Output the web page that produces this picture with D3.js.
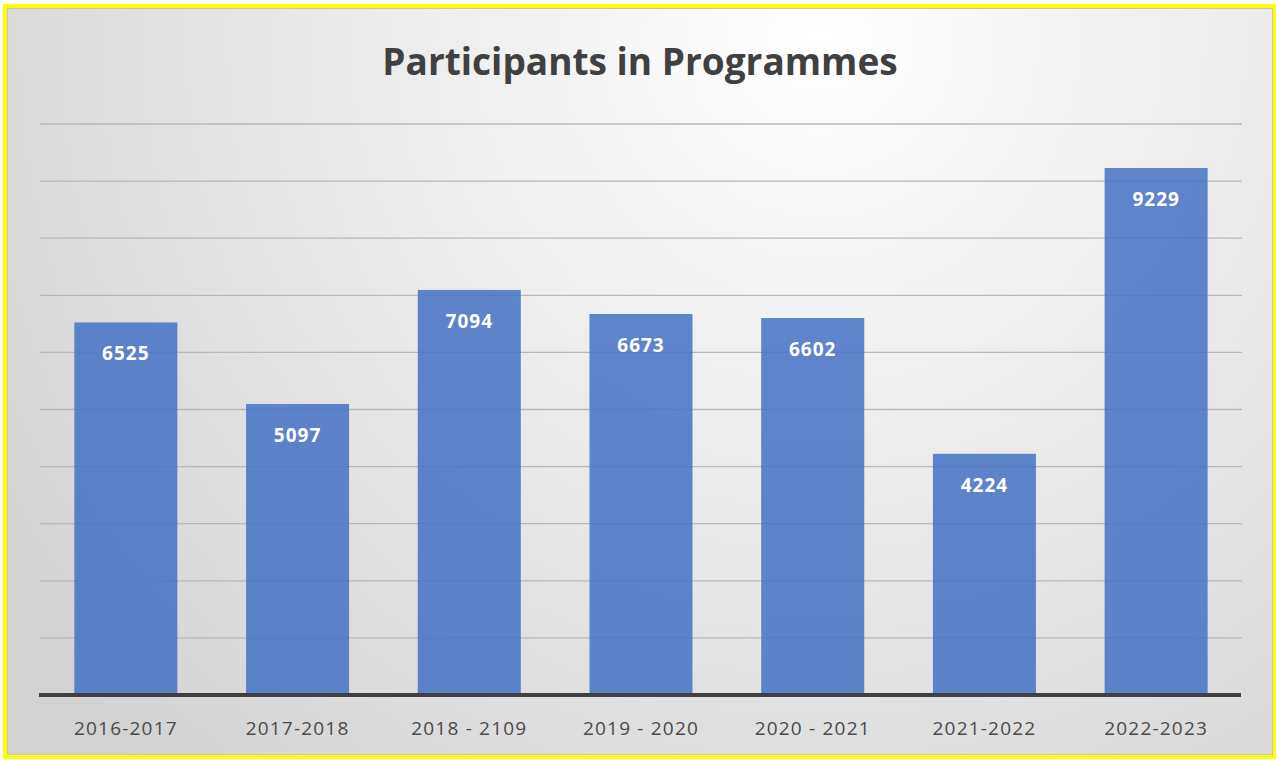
<!DOCTYPE html>
<html>
<head>
<meta charset="utf-8">
<script src="https://cdn.jsdelivr.net/npm/d3@7"></script>
<style>
  body { margin: 0; background: #fff; }
  svg { display: block; }
</style>
</head>
<body>
<svg id="chart" width="1276" height="760"></svg>
<script>
const seasons = ["2016-2017", "2017-2018", "2018 - 2109", "2019 - 2020", "2020 - 2021", "2021-2022", "2022-2023"];
const participants = [6525, 5097, 7094, 6673, 6602, 4224, 9229];
const yTicks = [0, 1000, 2000, 3000, 4000, 5000, 6000, 7000, 8000, 9000, 10000];

var svg = d3.select("#chart"),
    width = 1276,
    height = 760;

// background gradient, light at top, grey towards the bottom corners
var defs = svg.append("defs");
var grad = defs.append("radialGradient")
    .attr("id", "bg")
    .attr("gradientUnits", "userSpaceOnUse")
    .attr("cx", 820).attr("cy", 40).attr("r", 1000);
grad.append("stop").attr("offset", "0%").attr("stop-color", "#ffffff");
grad.append("stop").attr("offset", "100%").attr("stop-color", "#d2d2d2");

svg.append("rect")
    .attr("x", 7).attr("y", 8)
    .attr("width", 1266).attr("height", 747)
    .attr("fill", "url(#bg)")
    .attr("stroke", "#c4c4c4")
    .attr("stroke-width", 2);

svg.append("rect")
    .attr("x", 5).attr("y", 6)
    .attr("width", 1270).attr("height", 751)
    .attr("fill", "none")
    .attr("stroke", "#ffff00")
    .attr("stroke-width", 4);

var x = d3.scaleBand()
    .domain(seasons)
    .range([40, 1242])
    .paddingInner(0.4)
    .paddingOuter(0.2);

var y = d3.scaleLinear()
    .domain([0, 10000])
    .range([695, 124]);

// gridlines
svg.append("g")
    .selectAll("line")
    .data(yTicks.slice(1))
    .enter().append("line")
    .attr("x1", 40).attr("x2", 1242)
    .attr("y1", function (d) { return y(d); })
    .attr("y2", function (d) { return y(d); })
    .attr("stroke", "#b8b8b8")
    .attr("stroke-width", 1.3);

// bars
svg.append("g")
    .selectAll("rect")
    .data(participants)
    .enter().append("rect")
    .attr("x", function (d, i) { return x(seasons[i]); })
    .attr("y", function (d) { return y(d); })
    .attr("width", x.bandwidth())
    .attr("height", function (d) { return y(0) - y(d); })
    .attr("fill", "#4472c4")
    .attr("fill-opacity", 0.85);

// value labels
svg.append("g")
    .selectAll("text")
    .data(participants)
    .enter().append("text")
    .attr("x", function (d, i) { return x(seasons[i]) + x.bandwidth() / 2; })
    .attr("y", function (d) { return y(d) + 38; })
    .attr("text-anchor", "middle")
    .attr("fill", "#ffffff")
    .style("font-family", "'Open Sans', sans-serif")
    .style("font-weight", "bold")
    .style("font-size", "19px")
    .style("letter-spacing", "1px")
    .text(function (d) { return d; });

// x axis baseline
svg.append("line")
    .attr("x1", 39).attr("x2", 1241)
    .attr("y1", y(0)).attr("y2", y(0))
    .attr("stroke", "#404040")
    .attr("stroke-width", 4);

var xAxis = svg.append("g")
    .attr("transform", "translate(0," + y(0) + ")")
    .call(d3.axisBottom(x).tickSize(0).tickPadding(0));
xAxis.select(".domain").remove();
xAxis.selectAll("text")
    .attr("y", 40)
    .attr("dy", null)
    .attr("fill", "#4a4a4a")
    .style("font-family", "'Open Sans', sans-serif")
    .style("font-size", "19px")
    .style("letter-spacing", "1.2px");

// title
svg.append("text")
    .attr("x", 640)
    .attr("y", 75)
    .attr("text-anchor", "middle")
    .attr("fill", "#404040")
    .style("font-family", "'Open Sans', sans-serif")
    .style("font-weight", "bold")
    .style("font-size", "37px")
    .text("Participants in Programmes");
</script>
</body>
</html>
